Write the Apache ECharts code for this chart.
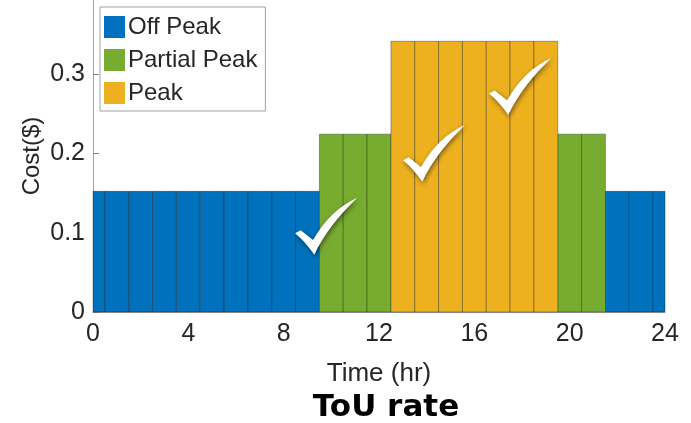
<!DOCTYPE html>
<html>
<head>
<meta charset="utf-8">
<script src="https://cdn.jsdelivr.net/npm/echarts@6/dist/echarts.min.js"></script>
<style>
html,body{margin:0;padding:0;background:#fff;}
#chart{width:691px;height:423px;}
</style>
</head>
<body>
<div id="chart"></div>
<script>
// ---- data ----
const hours = [0,1,2,3,4,5,6,7,8,9,10,11,12,13,14,15,16,17,18,19,20,21,22,23,24];
const costs = [0.152,0.152,0.152,0.152,0.152,0.152,0.152,0.152,0.152,0.152,
               0.224,0.224,0.224,
               0.341,0.341,0.341,0.341,0.341,0.341,0.341,
               0.224,0.224,
               0.152,0.152,0.152];
const periods = ['Off Peak','Off Peak','Off Peak','Off Peak','Off Peak','Off Peak','Off Peak','Off Peak','Off Peak','Off Peak',
                 'Partial Peak','Partial Peak','Partial Peak',
                 'Peak','Peak','Peak','Peak','Peak','Peak','Peak',
                 'Partial Peak','Partial Peak',
                 'Off Peak','Off Peak','Off Peak'];
const periodNames = ['Off Peak','Partial Peak','Peak'];
const xTicks = [0,4,8,12,16,20,24];
const yTicks = [0,0.1,0.2,0.3];
const checkX = [9.78,14.31,17.92];
const checkY = [0.108,0.200,0.284];

const colors = {'Off Peak':'#0072BD','Partial Peak':'#77AC30','Peak':'#EDB120'};
const txt = '#262626';
const font = '"Liberation Sans", Arial, sans-serif';

function renderBar(params, api){
  const x = api.value(0), v = api.value(1);
  const p0 = api.coord([x-0.5, v]);
  const p1 = api.coord([x+0.5, 0]);
  const cs = params.coordSys;
  const r = echarts.graphic.clipRectByRect(
    {x:p0[0], y:p0[1], width:p1[0]-p0[0], height:p1[1]-p0[1]},
    {x:cs.x, y:cs.y, width:cs.width, height:cs.height});
  if(!r) return null;
  return {type:'rect', shape:r, style:{fill:api.visual('color'), stroke:'rgba(0,0,0,0.32)', lineWidth:1}};
}

const barSeries = periodNames.map(name => ({
  name: name,
  type: 'custom',
  renderItem: renderBar,
  itemStyle: {color: colors[name]},
  encode: {x:0, y:1},
  data: hours.map((h,i)=>periods[i]===name ? [h, costs[i]] : null).filter(d=>d),
  silent: true,
  z: 2
}));

const checkPath = 'path://M0,58 L9,53 L29,69 C48,36 70,14 100,0 C70,30 46,60 31,93 C22,80 11,67 0,58 Z';

const option = {
  animation:false,
  grid:{left:93, right:26, top:0, bottom:111, containLabel:false},
  title:{text:'ToU rate', left:381, textAlign:'center', top:387,
    textStyle:{fontFamily:'"DejaVu Sans", sans-serif', fontWeight:'bold', fontSize:31, color:'#000'}},
  legend:{
    data: periodNames, orient:'vertical', left:100, top:7,
    icon:'rect', itemWidth:21, itemHeight:22, itemGap:9,
    padding:[8,8,6,4],
    backgroundColor:'#fff', borderColor:'#a0a0a0', borderWidth:1,
    textStyle:{fontFamily:font, fontSize:24, color:txt, padding:[0,0,0,-2]},
    selectedMode:false
  },
  xAxis:{
    type:'value', min:0, max:24, interval:4,
    name:'Time (hr)', nameLocation:'middle', nameGap:49,
    nameTextStyle:{fontFamily:font, fontSize:26, color:txt},
    axisLine:{show:true, lineStyle:{color:'#a0a0a0'}},
    axisTick:{show:false},
    splitLine:{show:false},
    axisLabel:{fontFamily:font, fontSize:25, color:txt, margin:10,
      formatter: v => xTicks.includes(v) ? String(v) : ''}
  },
  yAxis:{
    type:'value', min:0, max:0.393, interval:0.1,
    name:'Cost($)', nameLocation:'middle', nameGap:49, nameMoveOverlap:false,
    nameTextStyle:{fontFamily:font, fontSize:24, color:txt},
    axisLine:{show:true, lineStyle:{color:'#a0a0a0'}},
    axisTick:{show:true, inside:true, length:6, lineStyle:{color:'#808080'}},
    splitLine:{show:false},
    axisLabel:{fontFamily:font, fontSize:25, color:txt, margin:8, showMaxLabel:false,
      formatter: v => { const t = yTicks.find(y=>Math.abs(y-v)<1e-6); return t===undefined ? '' : (t===0 ? '0' : t.toFixed(1)); }}
  },
  series: barSeries.concat([{
    name:'checks', type:'scatter', silent:true, z:5,
    symbol: checkPath, symbolSize:[62,57],
    itemStyle:{color:'#ffffff', opacity:1, shadowColor:'rgba(0,0,0,0.5)', shadowBlur:5, shadowOffsetX:1, shadowOffsetY:2},
    data: checkX.map((x,i)=>[x, checkY[i]])
  }])
};

const chart = echarts.init(document.getElementById('chart'), null, {renderer:'canvas'});
chart.setOption(option);
</script>
</body>
</html>
